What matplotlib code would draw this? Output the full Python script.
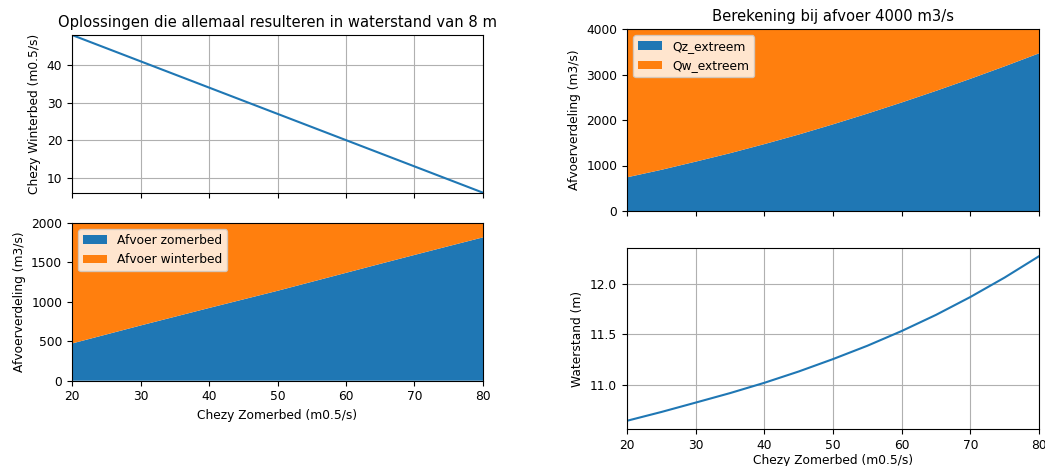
import matplotlib
matplotlib.use("Agg")
import matplotlib.pyplot as plt

# Chezy zomerbed (m0.5/s)
chezy_zomer = [20, 25, 30, 35, 40, 45, 50, 55, 60, 65, 70, 75, 80]

# Oplossingen bij waterstand 8 m
chezy_winter = [48.0, 44.5, 41.0, 37.5, 34.0, 30.5, 27.0, 23.5, 20.0, 16.5, 13.0, 9.5, 6.0]
afvoer_zomerbed = [472, 586, 700, 811, 922, 1031, 1140, 1254, 1368, 1482, 1595, 1707, 1818]
afvoer_totaal_8m = [2000] * len(chezy_zomer)
afvoer_winterbed = [t - z for t, z in zip(afvoer_totaal_8m, afvoer_zomerbed)]

# Berekening bij afvoer 4000 m3/s
qz_extreem = [740, 905, 1085, 1270, 1470, 1680, 1905, 2140, 2385, 2640, 2905, 3180, 3465]
q_extreem = [4000] * len(chezy_zomer)
qw_extreem = [q - z for q, z in zip(q_extreem, qz_extreem)]
waterstand = [10.644, 10.731, 10.824, 10.918, 11.020, 11.132, 11.255, 11.387,
              11.533, 11.693, 11.870, 12.063, 12.274]

plt.rcParams.update({
    "font.size": 8.8,
    "axes.titlesize": 10.6,
    "axes.labelsize": 8.8,
    "xtick.labelsize": 8.8,
    "ytick.labelsize": 8.8,
    "legend.fontsize": 8.8,
})

W, H = 1045, 466
fig = plt.figure(figsize=(W / 100, H / 100), dpi=100)


def box(x0, y0, x1, y1):
    return [x0 / W, (H - y1) / H, (x1 - x0) / W, (y1 - y0) / H]


ax_lt = fig.add_axes(box(72, 35, 483, 192.7))
ax_lb = fig.add_axes(box(72, 223, 483, 380.7), sharex=ax_lt)
ax_rt = fig.add_axes(box(627, 29, 1039, 211))
ax_rb = fig.add_axes(box(627, 248, 1039, 429), sharex=ax_rt)

blue, orange = "#1f77b4", "#ff7f0e"

# Links boven: Chezy winterbed
ax_lt.plot(chezy_zomer, chezy_winter, color=blue, lw=1.5)
ax_lt.set_title("Oplossingen die allemaal resulteren in waterstand van 8 m")
ax_lt.set_ylabel("Chezy Winterbed (m0.5/s)")
ax_lt.grid(True)
ax_lt.set_xlim(20, 80)
ax_lt.set_ylim(min(chezy_winter), max(chezy_winter))
ax_lt.tick_params(labelbottom=False)

# Links onder: afvoerverdeling
ax_lb.stackplot(chezy_zomer, afvoer_zomerbed, afvoer_winterbed,
                labels=["Afvoer zomerbed", "Afvoer winterbed"], colors=[blue, orange])
ax_lb.set_ylim(0, 2000)
ax_lb.set_yticks([0, 500, 1000, 1500, 2000])
ax_lb.set_ylabel("Afvoerverdeling (m3/s)")
ax_lb.set_xlabel("Chezy Zomerbed (m0.5/s)")
ax_lb.legend(loc="upper left")
ax_lb.set_xlim(20, 80)

# Rechts boven: afvoer 4000 m3/s
ax_rt.stackplot(chezy_zomer, qz_extreem, qw_extreem,
                labels=["Qz_extreem", "Qw_extreem"], colors=[blue, orange])
ax_rt.set_title("Berekening bij afvoer 4000 m3/s")
ax_rt.set_ylim(0, 4000)
ax_rt.set_yticks([0, 1000, 2000, 3000, 4000])
ax_rt.set_ylabel("Afvoerverdeling (m3/s)")
ax_rt.legend(loc="upper left")
ax_rt.set_xlim(20, 80)
ax_rt.tick_params(labelbottom=False)

# Rechts onder: waterstand
ax_rb.plot(chezy_zomer, waterstand, color=blue, lw=1.5)
ax_rb.set_ylabel("Waterstand (m)")
ax_rb.set_xlabel("Chezy Zomerbed (m0.5/s)", labelpad=1.5)
ax_rb.grid(True)
ax_rb.set_xlim(20, 80)
ax_rb.set_yticks([11.0, 11.5, 12.0])

fig.savefig("out.png", dpi=100)
